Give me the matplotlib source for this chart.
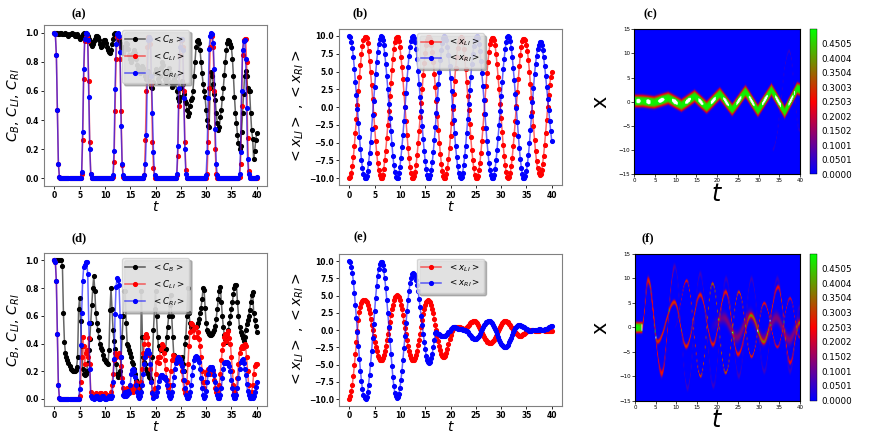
import numpy as np
import matplotlib.pyplot as plt
from matplotlib.colors import to_rgba, Normalize

# time grid of the runs (dt = 0.2) and position grid of the density maps
t = np.linspace(0, 40, 201)
xs = np.linspace(-15, 15, 301)

# ---------------- (a) occupations ----------------
cb_a = [1.0, 1.0, 1.0, 1.0, 0.99, 0.99, 1.0, 1.0, 0.99, 0.99,
        0.99, 1.0, 0.99, 0.99, 0.98, 0.99, 0.99, 1.0, 0.99, 0.99,
        0.98, 0.98, 0.99, 0.98, 0.97, 0.96, 0.97, 0.98, 0.99, 1.0,
        0.99, 1.0, 0.99, 0.98, 0.96, 0.94, 0.92, 0.91, 0.92, 0.94,
        0.96, 0.98, 0.98, 0.97, 0.95, 0.92, 0.90, 0.91, 0.93, 0.95,
        0.95, 0.93, 0.90, 0.88, 0.87, 0.86, 0.88, 0.92, 0.96, 0.99,
        1.0, 0.99, 0.98, 0.97, 0.95, 0.93, 0.90, 0.87, 0.86, 0.88,
        0.91, 0.93, 0.92, 0.89, 0.85, 0.82, 0.80, 0.82, 0.86, 0.88,
        0.86, 0.82, 0.78, 0.75, 0.73, 0.72, 0.74, 0.77, 0.76, 0.73,
        0.70, 0.68, 0.70, 0.74, 0.72, 0.67, 0.63, 0.62, 0.66, 0.72,
        0.75, 0.72, 0.68, 0.66, 0.70, 0.76, 0.80, 0.78, 0.73, 0.68,
        0.66, 0.69, 0.74, 0.76, 0.72, 0.66, 0.63, 0.64, 0.68, 0.70,
        0.66, 0.60, 0.55, 0.53, 0.56, 0.62, 0.67, 0.65, 0.58, 0.53,
        0.52, 0.47, 0.43, 0.45, 0.50, 0.54, 0.55, 0.60, 0.70, 0.80,
        0.90, 0.94, 0.95, 0.93, 0.88, 0.80, 0.72, 0.65, 0.60, 0.56,
        0.47, 0.40, 0.36, 0.35, 0.62, 0.73, 0.70, 0.65, 0.58, 0.54,
        0.45, 0.38, 0.33, 0.35, 0.42, 0.47, 0.55, 0.62, 0.71, 0.80,
        0.88, 0.93, 0.95, 0.94, 0.92, 0.90, 0.82, 0.70, 0.56, 0.45,
        0.38, 0.30, 0.24, 0.20, 0.22, 0.32, 0.45, 0.58, 0.70, 0.74,
        0.70, 0.62, 0.60, 0.60, 0.45, 0.33, 0.27, 0.13, 0.19, 0.26,
        0.31]
cli_a = [1.0, 0.99, 0.85, 0.47, 0.10, 0.01, 0, 0, 0, 0,
         0, 0, 0, 0, 0, 0, 0, 0, 0, 0,
         0, 0, 0, 0, 0, 0, 0, 0.03, 0.26, 0.68,
         0.94, 0.97, 0.97, 0.94, 0.67, 0.25, 0.03, 0, 0, 0,
         0, 0, 0, 0, 0, 0, 0, 0, 0, 0,
         0, 0, 0, 0, 0, 0, 0, 0, 0.01, 0.11,
         0.46, 0.82, 0.97, 0.98, 0.97, 0.82, 0.46, 0.09, 0.01, 0,
         0, 0, 0, 0, 0, 0, 0, 0, 0, 0,
         0, 0, 0, 0, 0, 0, 0, 0, 0, 0.02,
         0.26, 0.60, 0.90, 0.97, 0.97, 0.92, 0.65, 0.25, 0.07, 0,
         0, 0, 0, 0, 0, 0, 0, 0, 0, 0,
         0, 0, 0, 0, 0, 0, 0, 0, 0, 0,
         0, 0.02, 0.15, 0.50, 0.85, 0.95, 0.95, 0.90, 0.60, 0.25,
         0.06, 0, 0, 0, 0, 0, 0, 0, 0, 0,
         0, 0, 0, 0, 0, 0, 0, 0, 0, 0,
         0, 0.03, 0.25, 0.62, 0.90, 0.98, 0.98, 0.90, 0.60, 0.20,
         0.03, 0, 0, 0, 0, 0, 0, 0, 0, 0,
         0, 0, 0, 0, 0, 0, 0, 0, 0, 0,
         0, 0, 0, 0.01, 0.10, 0.50, 0.85, 0.95, 0.96, 0.96,
         0.80, 0.28, 0.05, 0.01, 0, 0, 0, 0, 0, 0,
         0]
cri_a = [1.0, 0.99, 0.85, 0.47, 0.10, 0.01, 0, 0, 0, 0,
         0, 0, 0, 0, 0, 0, 0, 0, 0, 0,
         0, 0, 0, 0, 0, 0, 0, 0.04, 0.32, 0.75,
         0.96, 1.0, 0.99, 0.95, 0.56, 0.20, 0.03, 0, 0, 0,
         0, 0, 0, 0, 0, 0, 0, 0, 0, 0,
         0, 0, 0, 0, 0, 0, 0, 0, 0.02, 0.19,
         0.61, 0.92, 0.99, 1.0, 0.98, 0.87, 0.36, 0.10, 0.02, 0,
         0, 0, 0, 0, 0, 0, 0, 0, 0, 0,
         0, 0, 0, 0, 0, 0, 0, 0, 0, 0.02,
         0.10, 0.30, 0.73, 0.95, 0.97, 0.96, 0.70, 0.45, 0.18, 0.02,
         0, 0, 0, 0, 0, 0, 0, 0, 0, 0,
         0, 0, 0, 0, 0, 0, 0, 0, 0, 0,
         0, 0.03, 0.22, 0.62, 0.90, 0.96, 0.96, 0.88, 0.55, 0.20,
         0.03, 0, 0, 0, 0, 0, 0, 0, 0, 0,
         0, 0, 0, 0, 0, 0, 0, 0, 0, 0,
         0.02, 0.18, 0.55, 0.89, 0.98, 1.0, 0.99, 0.93, 0.75, 0.34,
         0.10, 0.02, 0, 0, 0, 0, 0, 0, 0, 0,
         0, 0, 0, 0, 0, 0, 0, 0, 0, 0,
         0, 0, 0, 0.03, 0.18, 0.60, 0.88, 0.94, 0.95, 0.82,
         0.48, 0.13, 0.03, 0, 0, 0, 0, 0, 0, 0,
         0.01]

# ---------------- (b) mean positions ----------------
xli_b = [-10.0, -9.8, -9.2, -8.3, -7.0, -5.4, -3.6, -1.7, 0.3, 2.3,
         4.2, 5.9, 7.4, 8.6, 9.4, 9.8, 9.9, 9.7, 9.0, 7.9,
         6.5, 4.9, 3.1, 1.1, -0.9, -2.8, -4.7, -6.4, -7.8, -8.9,
         -9.6, -10.0, -9.9, -9.5, -8.7, -7.5, -6.1, -4.4, -2.5, -0.5,
         1.5, 3.4, 5.2, 6.8, 8.1, 9.1, 9.7, 9.8, 9.8, 9.3,
         8.4, 7.1, 5.6, 3.9, 2.0, 0.0, -2.0, -3.9, -5.7, -7.2,
         -8.4, -9.3, -9.9, -10.0, -9.7, -9.1, -8.1, -6.7, -5.1, -3.3,
         -1.4, 0.6, 2.6, 4.5, 6.2, 7.6, 8.7, 9.5, 9.8, 9.9,
         9.6, 8.8, 7.7, 6.3, 4.6, 2.8, 0.8, -1.2, -3.2, -5.0,
         -6.6, -8.0, -9.0, -9.7, -10.0, -9.9, -9.4, -8.5, -7.3, -5.8,
         -4.1, -2.2, -0.2, 1.8, 3.7, 5.5, 7.0, 8.3, 9.2, 9.7,
         9.9, 9.7, 9.2, 8.2, 6.9, 5.4, 3.6, 1.6, -0.4, -2.4,
         -4.2, -6.0, -7.4, -8.6, -9.5, -9.9, -10.0, -9.7, -8.9, -7.9,
         -6.5, -4.8, -3.0, -1.0, 1.0, 2.9, 4.8, 6.4, 7.8, 8.9,
         9.5, 9.7, 9.7, 9.4, 8.7, 7.5, 6.0, 4.3, 2.5, 0.5,
         -1.5, -3.5, -5.3, -6.8, -8.2, -9.1, -9.8, -10.0, -9.8, -9.3,
         -8.3, -7.1, -5.5, -3.8, -1.9, 0.1, 2.1, 4.0, 5.8, 7.3,
         8.5, 9.3, 9.6, 9.6, 9.4, 8.8, 7.9, 6.6, 5.0, 3.2,
         1.3, -0.7, -2.7, -4.6, -6.2, -7.6, -8.6, -9.3, -9.5, -9.4,
         -8.9, -8.0, -6.8, -5.3, -3.6, -1.8, 0.0, 1.7, 3.1, 4.2,
         5.0]
xri_b = [10.0, 9.8, 9.2, 8.3, 7.0, 5.4, 3.6, 1.7, -0.3, -2.3,
         -4.2, -5.9, -7.4, -8.6, -9.4, -9.9, -10.0, -9.7, -9.0, -7.9,
         -6.5, -4.9, -3.1, -1.1, 0.9, 2.8, 4.7, 6.4, 7.8, 8.9,
         9.6, 10.0, 9.9, 9.5, 8.7, 7.5, 6.1, 4.4, 2.5, 0.5,
         -1.5, -3.4, -5.2, -6.8, -8.1, -9.1, -9.8, -10.0, -9.9, -9.3,
         -8.4, -7.1, -5.6, -3.9, -2.0, 0.0, 2.0, 3.9, 5.7, 7.2,
         8.4, 9.3, 9.9, 10.0, 9.7, 9.1, 8.1, 6.7, 5.1, 3.3,
         1.4, -0.6, -2.6, -4.5, -6.2, -7.6, -8.7, -9.5, -9.9, -10.0,
         -9.6, -8.8, -7.7, -6.3, -4.6, -2.8, -0.8, 1.2, 3.2, 5.0,
         6.6, 8.0, 9.0, 9.7, 10.0, 9.9, 9.4, 8.5, 7.3, 5.8,
         4.1, 2.2, 0.2, -1.8, -3.7, -5.5, -7.0, -8.3, -9.2, -9.8,
         -10.0, -9.8, -9.2, -8.2, -6.9, -5.4, -3.6, -1.6, 0.4, 2.4,
         4.2, 6.0, 7.4, 8.6, 9.5, 9.9, 10.0, 9.7, 8.9, 7.9,
         6.5, 4.8, 3.0, 1.0, -1.0, -2.9, -4.8, -6.4, -7.8, -8.9,
         -9.6, -10.0, -9.9, -9.5, -8.7, -7.5, -6.0, -4.3, -2.5, -0.5,
         1.5, 3.5, 5.3, 6.8, 8.2, 9.1, 9.8, 10.0, 9.8, 9.3,
         8.3, 7.1, 5.5, 3.8, 1.9, -0.1, -2.1, -4.0, -5.8, -7.3,
         -8.5, -9.4, -9.9, -10.0, -9.7, -9.0, -8.0, -6.7, -5.1, -3.2,
         -1.3, 0.7, 2.7, 4.6, 6.0, 7.2, 8.2, 8.8, 9.1, 9.1,
         8.7, 8.0, 7.0, 5.8, 4.4, 2.8, 1.2, -0.4, -1.9, -3.4,
         -4.7]

# ---------------- (d) occupations ----------------
cb_d = [1.0, 1.0, 1.0, 1.0, 1.0, 1.0, 1.0, 1.0, 0.96, 0.62,
        0.41, 0.33, 0.30, 0.28, 0.26, 0.24, 0.22, 0.21, 0.20, 0.20,
        0.20, 0.21, 0.23, 0.30, 0.65, 0.73, 0.56, 0.38, 0.22, 0.18,
        0.17, 0.18, 0.20, 0.26, 0.35, 0.43, 0.55, 0.68, 0.80, 0.89,
        0.78, 0.62, 0.55, 0.50, 0.45, 0.40, 0.37, 0.35, 0.32, 0.29,
        0.28, 0.27, 0.26, 0.25, 0.35, 0.64, 0.80, 0.65, 0.50, 0.42,
        0.36, 0.25, 0.18, 0.16, 0.17, 0.20, 0.30, 0.45, 0.60, 0.78,
        0.78, 0.55, 0.40, 0.38, 0.35, 0.33, 0.30, 0.27, 0.25, 0.22,
        0.18, 0.14, 0.12, 0.10, 0.08, 0.06, 0.78, 0.45, 0.30, 0.27,
        0.25, 0.22, 0.20, 0.18, 0.16, 0.15, 0.14, 0.30, 0.50, 0.65,
        0.78, 0.60, 0.45, 0.38, 0.36, 0.35, 0.36, 0.35, 0.34, 0.35,
        0.36, 0.45, 0.52, 0.60, 0.68, 0.75, 0.60, 0.45, 0.32, 0.28,
        0.27, 0.28, 0.30, 0.29, 0.27, 0.28, 0.30, 0.25, 0.20, 0.40,
        0.45, 0.60, 0.80, 0.62, 0.55, 0.52, 0.50, 0.52, 0.51, 0.52,
        0.52, 0.53, 0.55, 0.58, 0.62, 0.66, 0.72, 0.80, 0.79, 0.66,
        0.55, 0.50, 0.48, 0.47, 0.46, 0.46, 0.47, 0.48, 0.50, 0.53,
        0.58, 0.65, 0.72, 0.78, 0.81, 0.70, 0.60, 0.52, 0.46, 0.43,
        0.41, 0.45, 0.50, 0.55, 0.60, 0.65, 0.70, 0.76, 0.80, 0.82,
        0.82, 0.70, 0.60, 0.52, 0.48, 0.46, 0.44, 0.42, 0.45, 0.50,
        0.54, 0.57, 0.60, 0.64, 0.70, 0.75, 0.77, 0.62, 0.57, 0.53,
        0.48]
cli_d = [1.0, 0.99, 0.85, 0.47, 0.10, 0.01, 0, 0, 0, 0,
         0, 0, 0, 0, 0, 0, 0, 0, 0, 0,
         0, 0, 0, 0, 0, 0.02, 0.12, 0.30, 0.45, 0.38,
         0.25, 0.33, 0.35, 0.30, 0.44, 0.25, 0.05, 0.02, 0.02, 0.02,
         0.03, 0.04, 0.03, 0.02, 0.03, 0.04, 0.04, 0.03, 0.02, 0.03,
         0.04, 0.03, 0.03, 0.02, 0.01, 0.02, 0.05, 0.10, 0.18, 0.28,
         0.33, 0.30, 0.32, 0.31, 0.33, 0.30, 0.24, 0.15, 0.08, 0.05,
         0.04, 0.06, 0.08, 0.06, 0.05, 0.07, 0.09, 0.07, 0.05, 0.06,
         0.10, 0.12, 0.08, 0.04, 0.02, 0.05, 0.12, 0.22, 0.33, 0.40,
         0.45, 0.47, 0.45, 0.40, 0.32, 0.22, 0.12, 0.05, 0.03, 0.08,
         0.18, 0.27, 0.30, 0.26, 0.30, 0.36, 0.40, 0.38, 0.33, 0.28,
         0.22, 0.14, 0.08, 0.05, 0.10, 0.20, 0.28, 0.32, 0.30, 0.28,
         0.30, 0.29, 0.27, 0.30, 0.28, 0.25, 0.20, 0.14, 0.07, 0.04,
         0.05, 0.12, 0.25, 0.38, 0.48, 0.55, 0.54, 0.50, 0.45, 0.52,
         0.52, 0.45, 0.48, 0.43, 0.38, 0.30, 0.20, 0.12, 0.08, 0.12,
         0.18, 0.20, 0.22, 0.20, 0.18, 0.20, 0.22, 0.19, 0.14, 0.08,
         0.05, 0.04, 0.05, 0.10, 0.18, 0.28, 0.35, 0.40, 0.45, 0.47,
         0.42, 0.47, 0.49, 0.44, 0.40, 0.30, 0.20, 0.10, 0.05, 0.04,
         0.08, 0.15, 0.25, 0.33, 0.37, 0.38, 0.37, 0.39, 0.40, 0.38,
         0.30, 0.20, 0.10, 0.04, 0.03, 0.05, 0.10, 0.18, 0.24, 0.25,
         0.25]
cri_d = [1.0, 0.99, 0.85, 0.47, 0.10, 0.01, 0, 0, 0, 0,
         0, 0, 0, 0, 0, 0, 0, 0, 0, 0,
         0, 0, 0, 0, 0, 0.07, 0.39, 0.62, 0.85, 0.95,
         0.97, 0.99, 0.99, 0.90, 0.55, 0.22, 0.02, 0.01, 0.01, 0.0,
         0.01, 0.02, 0.02, 0.01, 0.0, 0.0, 0.01, 0.02, 0.02, 0.01,
         0.0, 0.0, 0.01, 0.01, 0.02, 0.02, 0.01, 0.02, 0.12, 0.29,
         0.61, 0.81, 0.87, 0.86, 0.82, 0.60, 0.30, 0.12, 0.03, 0.02,
         0.05, 0.02, 0.03, 0.06, 0.04, 0.10, 0.18, 0.21, 0.22, 0.20,
         0.16, 0.10, 0.05, 0.02, 0.01, 0.02, 0.05, 0.10, 0.18, 0.25,
         0.30, 0.33, 0.35, 0.35, 0.33, 0.25, 0.12, 0.04, 0.01, 0.02,
         0.02, 0.05, 0.09, 0.13, 0.16, 0.17, 0.17, 0.16, 0.15, 0.16,
         0.14, 0.10, 0.05, 0.02, 0.01, 0.02, 0.05, 0.10, 0.16, 0.22,
         0.26, 0.29, 0.30, 0.28, 0.29, 0.27, 0.24, 0.20, 0.14, 0.08,
         0.03, 0.01, 0.01, 0.02, 0.05, 0.10, 0.17, 0.23, 0.28, 0.30,
         0.31, 0.30, 0.29, 0.27, 0.22, 0.15, 0.08, 0.03, 0.01, 0.02,
         0.06, 0.12, 0.18, 0.22, 0.23, 0.22, 0.23, 0.21, 0.17, 0.12,
         0.07, 0.03, 0.01, 0.01, 0.03, 0.08, 0.15, 0.22, 0.26, 0.27,
         0.26, 0.27, 0.26, 0.24, 0.20, 0.14, 0.08, 0.03, 0.01, 0.01,
         0.03, 0.08, 0.15, 0.22, 0.27, 0.28, 0.29, 0.26, 0.22, 0.17,
         0.11, 0.06, 0.03, 0.01, 0.01, 0.02, 0.01, 0.02, 0.05, 0.09,
         0.12]

# ---------------- (e) mean positions ----------------
xli_e = [-10.0, -9.6, -8.9, -7.9, -6.6, -5.1, -3.5, -1.8, -0.1, 1.4,
         2.6, 3.4, 3.9, 4.2, 4.3, 4.3, 4.2, 4.0, 3.6, 3.0,
         2.4, 1.6, 0.8, 0.0, -0.9, -1.7, -2.5, -3.1, -3.7, -4.1,
         -4.3, -4.4, -4.3, -4.1, -3.6, -3.0, -2.3, -1.5, -0.6, 0.3,
         1.2, 2.2, 3.0, 3.7, 4.3, 4.8, 5.0, 5.1, 5.0, 4.8,
         4.3, 3.7, 3.0, 2.2, 1.2, 0.3, -0.6, -1.5, -2.3, -3.0,
         -3.6, -4.1, -4.3, -4.4, -4.3, -4.0, -3.6, -3.0, -2.2, -1.4,
         -0.5, 0.5, 1.4, 2.3, 3.0, 3.6, 4.0, 4.2, 4.3, 4.2,
         4.0, 3.6, 3.1, 2.4, 1.6, 0.8, 0.0, -0.8, -1.6, -2.3,
         -2.9, -3.4, -3.7, -3.9, -3.9, -3.7, -3.3, -2.7, -2.0, -1.3,
         -0.7, -0.2, 0.2, 0.4, 0.5, 0.5, 0.5, 0.5, 0.4, 0.4,
         0.3, 0.3, 0.2, 0.2, 0.2, 0.3, 0.4, 0.6, 0.8, 1.0,
         1.1, 1.2, 1.3, 1.3, 1.3, 1.2, 1.0, 0.8, 0.5, 0.2,
         -0.1, -0.4, -0.7, -1.0, -1.3, -1.5, -1.7, -1.8, -1.9, -1.9,
         -1.9, -1.8, -1.6, -1.4, -1.1, -0.8, -0.4, -0.1, 0.2, 0.5,
         0.8, 1.0, 1.2, 1.3, 1.3, 1.3, 1.2, 1.1, 0.9, 0.7,
         0.5, 0.3, 0.1, -0.1, -0.3, -0.4, -0.6, -0.7, -0.8, -0.8,
         -0.8, -0.7, -0.6, -0.5, -0.4, -0.3, -0.2, -0.1, 0.0, 0.0,
         0.0, 0.0, 0.0, -0.1, -0.1, -0.1, -0.1, -0.1, 0.0, 0.0,
         0.0, 0.0, 0.0, -0.1, -0.1, -0.1, -0.1, -0.2, -0.2, -0.2,
         -0.2]
xri_e = [10.0, 9.8, 9.2, 8.3, 7.0, 5.4, 3.6, 1.7, -0.3, -2.3,
         -4.2, -5.9, -7.4, -8.6, -9.4, -9.9, -10.0, -9.7, -9.0, -7.9,
         -6.5, -4.9, -3.1, -1.1, 0.9, 2.8, 4.7, 6.4, 7.8, 8.9,
         9.6, 9.9, 9.9, 9.5, 8.7, 7.5, 6.1, 4.4, 2.5, 0.5,
         -1.5, -3.4, -5.2, -6.8, -8.1, -9.1, -9.6, -9.8, -9.7, -9.2,
         -8.4, -7.3, -5.9, -4.3, -2.6, -0.8, 1.0, 2.7, 4.3, 5.7,
         6.8, 7.6, 8.1, 8.2, 8.1, 7.8, 7.3, 6.5, 5.6, 4.5,
         3.3, 2.0, 0.8, -0.5, -1.7, -2.8, -3.7, -4.3, -4.7, -4.8,
         -4.6, -4.1, -3.4, -2.5, -1.5, -0.4, -0.3, -0.4, -0.5, -0.6,
         -0.7, -0.8, -0.8, -0.9, -0.8, -0.8, -0.7, -0.5, -0.3, -0.1,
         0.1, 0.3, 0.4, 0.4, 0.4, 0.3, 0.3, 0.2, 0.2, 0.1,
         0.1, 0.1, 0.0, 0.0, 0.0, -0.1, -0.2, -0.3, -0.5, -0.7,
         -0.9, -1.1, -1.2, -1.3, -1.3, -1.3, -1.2, -1.0, -0.8, -0.5,
         -0.2, 0.1, 0.4, 0.7, 0.9, 1.1, 1.2, 1.3, 1.3, 1.3,
         1.2, 1.0, 0.8, 0.5, 0.2, -0.2, -0.6, -1.0, -1.4, -1.7,
         -2.0, -2.2, -2.3, -2.4, -2.4, -2.4, -2.3, -2.1, -1.8, -1.5,
         -1.1, -0.7, -0.3, 0.0, 0.3, 0.5, 0.6, 0.7, 0.7, 0.7,
         0.6, 0.6, 0.5, 0.4, 0.3, 0.2, 0.1, 0.0, -0.1, -0.1,
         -0.1, 0.0, 0.0, 0.0, 0.0, 0.0, 0.0, 0.1, 0.1, 0.0,
         0.0, 0.0, 0.0, 0.1, 0.1, 0.2, 0.3, 0.4, 0.5, 0.6,
         0.6]

# ---------------- (c), (f) density maps: turning points of the packets ----------------
c_turn_t = [0.0, 2.0, 4.8, 8.2, 11.4, 14.6, 17.5, 20.7, 23.7, 26.9, 29.9, 33.2, 36.4, 39.4, 40.0]
c_turn_x = [0.0, 0.0, -0.3, 0.6, -0.9, 1.0, -1.3, 1.5, -1.8, 2.0, -2.0, 2.3, -2.3, 2.6, 2.4]
# peak density along the packet: bright (white) spots mid-way between turns
c_peak_t = [0.0, 1.0, 2.0, 3.4, 4.8, 6.5, 8.2, 9.8, 11.4, 13.0, 14.6, 16.0, 17.5, 19.1,
            20.7, 22.2, 23.7, 25.3, 26.9, 28.4, 29.9, 31.6, 33.2, 34.8, 36.4, 37.9, 39.4, 40.0]
c_peak_v = [0.49, 0.515, 0.48, 0.515, 0.48, 0.515, 0.48, 0.515, 0.48, 0.515, 0.48, 0.515, 0.48, 0.515,
            0.48, 0.515, 0.48, 0.515, 0.48, 0.515, 0.48, 0.515, 0.48, 0.515, 0.48, 0.515, 0.48, 0.50]
c_arc_t = [33.5, 37.5, 40.0]
c_arc_x = [-10.0, 10.3, -6.0]

f0_t, f0_x = [0.0, 1.6], [0.0, 0.0]
f1_t = [1.6, 3.1, 6.4, 9.6]
f1_x = [0.0, 9.7, -9.4, 12.5]
f2_t = [3.1, 5.4, 9.5, 12.4, 15.8, 18.9, 22.0, 25.0, 28.2, 31.3, 34.8, 37.7, 40.0]
f2_x = [9.7, -2.9, 5.2, -3.9, 6.7, -3.5, 7.3, -5.5, 2.5, -3.0, 8.3, -7.2, 1.0]
f3_t = [9.5, 12.5, 15.9, 18.8, 22.0, 25.2, 28.3, 31.4, 34.6, 37.7, 40.0]
f3_x = [0.0, 9.6, -10.0, 9.0, -9.3, 7.3, -6.0, 5.0, -4.0, 6.0, -2.0]
f4_t = [6.4, 9.6, 12.7, 15.8, 19.0, 22.1, 25.2, 28.3, 31.4, 34.6, 37.7, 40.0]
f4_x = [-9.4, 12.5, -12.5, 11.0, -12.0, 10.0, -10.0, 10.0, -9.0, 10.0, -9.0, 4.0]
f5_t = [18.0, 21.5, 24.7, 28.0, 31.2, 34.3, 37.5, 40.0]
f5_x = [0.0, 2.0, -2.0, 2.5, -2.5, 2.0, -2.5, 1.0]

cbar_ticks = [0.0000, 0.0501, 0.1001, 0.1502, 0.2002, 0.2503, 0.3003, 0.3504, 0.4004, 0.4505]
cbar_top = 0.5005


def ridge(track_t, track_x, amp_t, amp_v, width, power=2, smooth=True):
    # packet whose centre moves between the turning points
    tt = np.asarray(track_t)
    xx = np.asarray(track_x)
    i = np.clip(np.searchsorted(tt, t, side='right') - 1, 0, len(tt) - 2)
    s = np.clip((t - tt[i]) / (tt[i + 1] - tt[i]), 0, 1)
    if smooth:
        s = (1 - np.cos(np.pi * s)) / 2
    centre = xx[i] + (xx[i + 1] - xx[i]) * s
    amp = np.interp(t, amp_t, amp_v) * ((t >= tt[0]) & (t <= tt[-1]))
    d = np.abs(xs[:, None] - centre[None, :]) / width
    return amp[None, :] * np.exp(-d**power / 2)


dens_c = ridge(c_turn_t, c_turn_x, c_peak_t, c_peak_v, 1.0, power=4, smooth=False) \
    + ridge(c_arc_t, c_arc_x, [33.5, 40], [0.05, 0.05], 0.25)
dens_f = ridge(f0_t, f0_x, [0, 1.6], [0.5, 0.45], 0.9, power=4) \
    + ridge(f1_t, f1_x, [1.6, 3.1, 6.4, 9.6], [0.3, 0.28, 0.24, 0.04], 0.5) \
    + ridge(f2_t, f2_x, [3.1, 4.5, 20, 40], [0.0, 0.33, 0.3, 0.26], 0.32) \
    + ridge(f3_t, f3_x, [9.5, 12.5, 19, 40], [0.0, 0.3, 0.42, 0.2], 0.2) \
    + ridge(f4_t, f4_x, [6.4, 40], [0.06, 0.06], 0.4) \
    + ridge(f5_t, f5_x, [18, 22, 40], [0.0, 0.13, 0.13], 0.8)


fig = plt.figure(figsize=(8.72, 4.36), dpi=100)


def line_panel(rect, curves, ylabel, yticks):
    ax = fig.add_axes(rect)
    for y, colour, label in curves:
        ax.plot(t, y, color=to_rgba(colour, 0.6), lw=1.1, marker='o', ms=2.7,
                mfc=colour, mec=colour, label=label)
    ax.set_xticks(range(0, 41, 5))
    ax.set_yticks(yticks)
    ax.set_xlabel('$t$', fontsize=10, labelpad=0)
    ax.set_ylabel(ylabel, fontsize=10, labelpad=2)
    ax.tick_params(labelsize=5.5, length=2.5, width=0.6, pad=1.5)
    plt.setp(ax.get_xticklabels() + ax.get_yticklabels(), fontweight='bold')
    for sp in ax.spines.values():
        sp.set_color('0.5')
        sp.set_linewidth(0.8)
    ax.legend(loc='upper center', fontsize=6.3, facecolor='0.92', framealpha=0.8,
              handlelength=2.3, shadow={'color': '0.55', 'alpha': 0.6})
    return ax


def map_panel(rect, crect, dens):
    ax = fig.add_axes(rect)
    cmap = plt.get_cmap('brg').copy()
    cmap.set_over('white')
    im = ax.imshow(dens, extent=[0, 40, -15, 15], origin='lower', aspect='auto',
                   cmap=cmap, norm=Normalize(0, cbar_top))
    ax.set_xticks(range(0, 41, 5))
    ax.set_yticks(range(-15, 16, 5))
    ax.tick_params(labelsize=4, length=2, width=0.5, pad=1)
    ax.set_xlabel('$t$', fontsize=17, labelpad=-1)
    ax.set_ylabel('x', fontsize=15, labelpad=6)
    cax = fig.add_axes(crect)
    cb = fig.colorbar(im, cax=cax, ticks=cbar_ticks)
    cb.ax.set_yticklabels(['%.4f' % v for v in cbar_ticks])
    cb.ax.tick_params(labelsize=6.3, length=0, pad=3)
    cb.outline.set_linewidth(0.3)
    return ax


occ_ticks = [0.0, 0.2, 0.4, 0.6, 0.8, 1.0]
pos_ticks = [-10.0, -7.5, -5.0, -2.5, 0.0, 2.5, 5.0, 7.5, 10.0]

line_panel([0.0507, 0.5743, 0.2553, 0.3674],
           [(cb_a, 'black', r'$<C_B>$'), (cli_a, 'red', r'$<C_{LI}>$'), (cri_a, 'blue', r'$<C_{RI}>$')],
           r'$C_B$, $C_{LI}$, $C_{RI}$', occ_ticks)
line_panel([0.389, 0.5748, 0.2553, 0.359],
           [(xli_b, 'red', r'$<x_{LI}>$'), (xri_b, 'blue', r'$<x_{RI}>$')],
           r'$<x_{LI}>$ , $<x_{RI}>$', pos_ticks)
map_panel([0.7274, 0.6002, 0.19, 0.3326], [0.9289, 0.6002, 0.0084, 0.3326], dens_c)

line_panel([0.0507, 0.069, 0.2553, 0.3496],
           [(cb_d, 'black', r'$<C_B>$'), (cli_d, 'red', r'$<C_{LI}>$'), (cri_d, 'blue', r'$<C_{RI}>$')],
           r'$C_B$, $C_{LI}$, $C_{RI}$', occ_ticks)
line_panel([0.389, 0.069, 0.2553, 0.348],
           [(xli_e, 'red', r'$<x_{LI}>$'), (xri_e, 'blue', r'$<x_{RI}>$')],
           r'$<x_{LI}>$ , $<x_{RI}>$', pos_ticks)
map_panel([0.7282, 0.081, 0.1892, 0.3365], [0.9289, 0.081, 0.0084, 0.3365], dens_f)

# panel letters
for lab, px, py in [('(a)', 79, 14), ('(b)', 360, 13), ('(c)', 650, 14),
                    ('(d)', 79, 238), ('(e)', 360, 237), ('(f)', 648, 238)]:
    fig.text(px / 872, 1 - py / 436, lab, ha='center', va='center', fontsize=9,
             fontweight='bold', family='Liberation Serif')

fig.savefig('out.png', dpi=100)
